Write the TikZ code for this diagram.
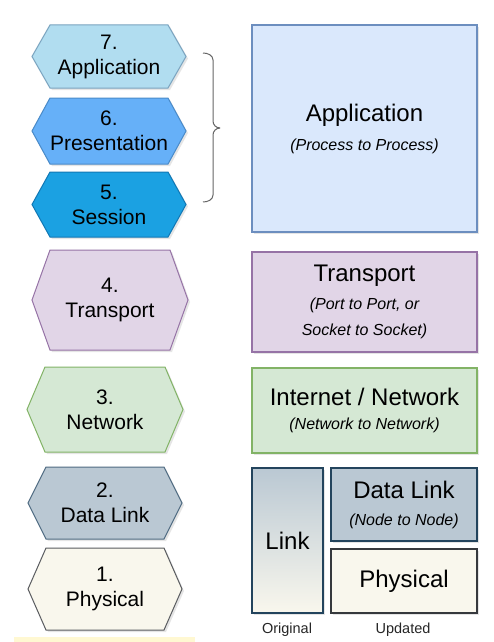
\documentclass[tikz,border=0pt]{standalone}
\usepackage{fontspec}
\setmainfont{Liberation Sans}
\usetikzlibrary{shadows,backgrounds}
\definecolor{hsevenF}{HTML}{B1DDF0}\definecolor{hsevenD}{HTML}{7AA3BF}
\definecolor{hsixF}{HTML}{66B0F8}\definecolor{hsixD}{HTML}{4A8BC9}
\definecolor{hfiveF}{HTML}{1BA1E2}\definecolor{hfiveD}{HTML}{1178B5}
\definecolor{purF}{HTML}{E1D5E7}\definecolor{purD}{HTML}{9673A6}
\definecolor{grnF}{HTML}{D5E8D4}\definecolor{grnD}{HTML}{82B366}
\definecolor{slateF}{HTML}{BAC8D3}\definecolor{slateD}{HTML}{23445D}\definecolor{slateL}{HTML}{4F6B82}
\definecolor{creamF}{HTML}{F9F7ED}\definecolor{creamD}{HTML}{36393D}\definecolor{creamL}{HTML}{5A5C60}
\definecolor{appF}{HTML}{DAE8FC}\definecolor{appD}{HTML}{6C8EBF}
\definecolor{braceC}{HTML}{666666}
\definecolor{stripC}{HTML}{FFF8D2}
\newcommand{\subt}[1]{{\fontsize{16}{24}\selectfont\itshape #1}}
\newcommand{\hexdraw}[3]{%
  \begin{scope}[on background layer]
  \path[hexline, fill=#2, draw=#3] ([xshift=18pt]#1.north west) -- ([xshift=-18pt]#1.north east) -- (#1.east)
    -- ([xshift=-18pt]#1.south east) -- ([xshift=18pt]#1.south west) -- (#1.west) -- cycle;
  \end{scope}}
\tikzset{
  hexnode/.style={inner sep=0pt, outer sep=0pt, align=center, font=\fontsize{21}{25}\selectfont, text=black},
  hexline/.style={line width=1pt, line join=miter, drop shadow={shadow xshift=2pt, shadow yshift=-2pt, opacity=0.2}},
  layerbox/.style={draw, line width=2pt, inner sep=0pt, outer sep=0pt, align=center,
    font=\fontsize{24}{24}\selectfont, text=black,
    drop shadow={shadow xshift=2pt, shadow yshift=-2pt, opacity=0.2}},
  caption/.style={font=\fontsize{14.5}{16}\selectfont, text=black!85},
  bracestyle/.style={draw=braceC, line width=1pt}
}
\begin{document}
\begin{tikzpicture}[x=1pt,y=-1pt]
\useasboundingbox (0,0) rectangle (494,642);
\begin{scope}[on background layer]
\fill[white] (0,0) rectangle (494,642);
\fill[stripC] (14,637) rectangle (195,642);
\end{scope}
% hexagons (OSI)
\node[hexnode, minimum width=154pt, minimum height=63pt] (h7) at (109,56.5) {7.\\Application};
\hexdraw{h7}{hsevenF}{hsevenD}
\node[hexnode, minimum width=154pt, minimum height=66pt] (h6) at (109,131) {6.\\Presentation};
\hexdraw{h6}{hsixF}{hsixD}
\node[hexnode, minimum width=154pt, minimum height=65pt] (h5) at (109,204.5) {5.\\Session};
\hexdraw{h5}{hfiveF}{hfiveD}
\node[hexnode, minimum width=156pt, minimum height=100pt] (h4) at (110,300) {4.\\Transport};
\hexdraw{h4}{purF}{purD}
\node[hexnode, minimum width=156pt, minimum height=85pt] (h3) at (105,409.5) {3.\\Network};
\hexdraw{h3}{grnF}{grnD}
\node[hexnode, minimum width=154pt, minimum height=72pt] (h2) at (105,503) {2.\\Data Link};
\hexdraw{h2}{slateF}{slateL}
\node[hexnode, minimum width=154pt, minimum height=82pt] (h1) at (105,589) {1.\\Physical};
\hexdraw{h1}{creamF}{creamL}
% brace
\draw[bracestyle] (203,53) to[out=0,in=90] (213,60) -- (213,121) to[out=-90,in=180] (220,128);
\draw[bracestyle] (220,128) to[out=180,in=90] (213,135) -- (213,195) to[out=-90,in=0] (203,202);
% TCP/IP boxes
\node[layerbox, fill=appF, draw=appD, minimum width=225pt, minimum height=207pt] (app) at (364.5,128.5)
  {Application\\[5pt]\subt{(Process to Process)}};
\node[layerbox, fill=purF, draw=purD, minimum width=225pt, minimum height=100pt] (trans) at (364.5,302)
  {Transport\\[4pt]\subt{(Port to Port, or}\\[2pt]\subt{Socket to Socket)}};
\node[layerbox, fill=grnF, draw=grnD, minimum width=225pt, minimum height=85pt] (inet) at (364.5,410.5)
  {Internet / Network\\[0pt]\subt{(Network to Network)}};
\node[layerbox, top color=slateF, bottom color=creamF, draw=slateD, minimum width=71pt, minimum height=145pt] (link) at (287.5,540.5)
  {Link};
\node[layerbox, fill=slateF, draw=slateD, minimum width=146pt, minimum height=73pt] (dlink) at (404,504.5)
  {Data Link\\[3pt]\subt{(Node to Node)}};
\node[layerbox, fill=creamF, draw=creamD, minimum width=146pt, minimum height=64pt] (phys) at (404,581)
  {Physical};
\node[caption] (orig) at (287,630) {Original};
\node[caption] (upd) at (403,630) {Updated};
\end{tikzpicture}
\end{document}
